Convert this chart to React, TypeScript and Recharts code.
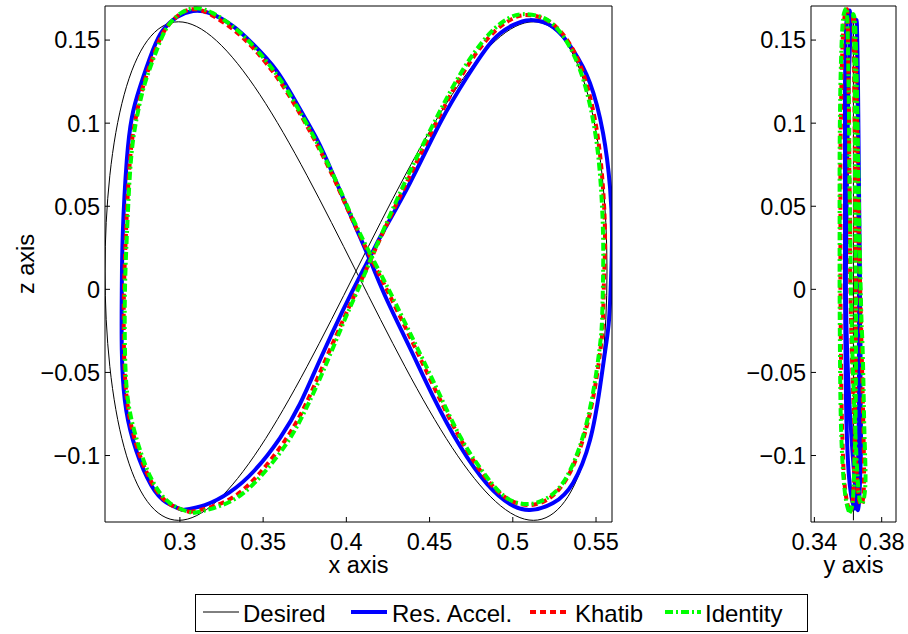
import React from 'react';
import { LineChart, Line, XAxis, YAxis, Label } from 'recharts';

// desired path in the x-z plane (figure eight)
const desiredX = [0.4058, 0.4352, 0.4635, 0.4896, 0.5124, 0.5312, 0.5451, 0.5537, 0.5566, 0.5537, 0.5451, 0.5312, 0.5124, 0.4896, 0.4635, 0.4352, 0.4058, 0.3764, 0.3481, 0.3220, 0.2992, 0.2804, 0.2665, 0.2579, 0.2550, 0.2579, 0.2665, 0.2804, 0.2992, 0.3220, 0.3481, 0.3764, 0.4058];
const desiredZ = [0.011, 0.0684, 0.1171, 0.1496, 0.161, 0.1496, 0.1171, 0.0684, 0.011, -0.0464, -0.0951, -0.1276, -0.139, -0.1276, -0.0951, -0.0464, 0.011, 0.0684, 0.1171, 0.1496, 0.161, 0.1496, 0.1171, 0.0684, 0.011, -0.0464, -0.0951, -0.1276, -0.139, -0.1276, -0.0951, -0.0464, 0.011];
// desired path seen from the side is just a vertical line
const desiredSideY = [0.3632, 0.3632];
const desiredSideZ = [0.161, -0.139];

const resAccelX = [0.3018, 0.3150, 0.3300, 0.3451, 0.3601, 0.3721, 0.3841, 0.3980, 0.4082, 0.4154, 0.4220, 0.4382, 0.4563, 0.4725, 0.4881, 0.5001, 0.5103,
  0.5242, 0.5362, 0.5464, 0.5542, 0.5584, 0.5596, 0.5590, 0.5578, 0.5560, 0.5524, 0.5464, 0.5362, 0.5242, 0.5103,
  0.4983, 0.4845, 0.4683, 0.4520, 0.4382, 0.4244, 0.4142, 0.4022, 0.3919, 0.3829, 0.3721, 0.3583, 0.3439, 0.3319, 0.3180, 0.3078,
  0.2982, 0.2898, 0.2838, 0.2760, 0.2712, 0.2681, 0.2657, 0.2651, 0.2651, 0.2669, 0.2718, 0.2802, 0.2898, 0.3018];
const resAccelY = [0.3642, 0.3647, 0.3653, 0.3659, 0.3662, 0.3665, 0.3665, 0.3665, 0.3665, 0.3665, 0.3662, 0.3662, 0.3659, 0.3656, 0.3653, 0.3653, 0.3650,
  0.3653, 0.3656, 0.3659, 0.3662, 0.3665, 0.3668, 0.3671, 0.3671, 0.3674, 0.3674, 0.3677, 0.3671, 0.3665, 0.3659,
  0.3653, 0.3642, 0.3624, 0.3606, 0.3594, 0.3588, 0.3588, 0.3591, 0.3594, 0.3597, 0.3600, 0.3606, 0.3612, 0.3615, 0.3612, 0.3606,
  0.3594, 0.3588, 0.3585, 0.3582, 0.3582, 0.3582, 0.3582, 0.3582, 0.3585, 0.3588, 0.3594, 0.3606, 0.3624, 0.3642];
const resAccelZ = [-0.1328, -0.1298, -0.1220, -0.1087, -0.0895, -0.0690, -0.0425, -0.0125, 0.0080, 0.0218, 0.0345, 0.0640, 0.1001, 0.1278, 0.1500, 0.1590, 0.1620,
  0.1578, 0.1440, 0.1241, 0.0941, 0.0616, 0.0339, 0.0056, -0.0185, -0.0335, -0.0588, -0.0907, -0.1165, -0.1286, -0.1328,
  -0.1292, -0.1171, -0.0943, -0.0642, -0.0353, -0.0064, 0.0176, 0.0453, 0.0694, 0.0892, 0.1085, 0.1313, 0.1476, 0.1584, 0.1662, 0.1675,
  0.1638, 0.1560, 0.1440, 0.1217, 0.1037, 0.0778, 0.0339, -0.0004, -0.0365, -0.0666, -0.0907, -0.1130, -0.1268, -0.1328];

const khatibX = [0.3060, 0.3186, 0.3331, 0.3475, 0.3625, 0.3745, 0.3859, 0.3986, 0.4082, 0.4148, 0.4208, 0.4364, 0.4545, 0.4701, 0.4863, 0.4983, 0.5067,
  0.5194, 0.5314, 0.5416, 0.5494, 0.5536, 0.5554, 0.5548, 0.5542, 0.5530, 0.5494, 0.5428, 0.5326, 0.5212, 0.5097,
  0.4971, 0.4839, 0.4689, 0.4538, 0.4400, 0.4268, 0.4160, 0.4040, 0.3938, 0.3841, 0.3733, 0.3595, 0.3451, 0.3325, 0.3192, 0.3090,
  0.3000, 0.2922, 0.2862, 0.2784, 0.2736, 0.2700, 0.2676, 0.2664, 0.2664, 0.2682, 0.2730, 0.2814, 0.2922, 0.3060];
const khatibY = [0.3612, 0.3624, 0.3630, 0.3636, 0.3639, 0.3642, 0.3645, 0.3645, 0.3645, 0.3645, 0.3642, 0.3642, 0.3639, 0.3636, 0.3633, 0.3630, 0.3630,
  0.3636, 0.3642, 0.3647, 0.3653, 0.3659, 0.3665, 0.3671, 0.3677, 0.3680, 0.3686, 0.3692, 0.3695, 0.3689, 0.3677,
  0.3665, 0.3653, 0.3642, 0.3630, 0.3621, 0.3615, 0.3612, 0.3612, 0.3609, 0.3607, 0.3606, 0.3603, 0.3600, 0.3600, 0.3597, 0.3594,
  0.3582, 0.3573, 0.3567, 0.3561, 0.3558, 0.3555, 0.3555, 0.3555, 0.3558, 0.3561, 0.3567, 0.3576, 0.3594, 0.3612];
const khatibZ = [-0.1340, -0.1310, -0.1244, -0.1111, -0.0919, -0.0714, -0.0461, -0.0173, 0.0038, 0.0182, 0.0315, 0.0646, 0.1013, 0.1301, 0.1524, 0.1620, 0.1650,
  0.1626, 0.1518, 0.1320, 0.1019, 0.0688, 0.0339, 0.0056, -0.0185, -0.0335, -0.0588, -0.0883, -0.1135, -0.1262, -0.1298,
  -0.1262, -0.1136, -0.0907, -0.0612, -0.0323, -0.0052, 0.0164, 0.0411, 0.0640, 0.0838, 0.1037, 0.1259, 0.1440, 0.1560, 0.1650, 0.1686,
  0.1656, 0.1578, 0.1462, 0.1240, 0.1037, 0.0778, 0.0339, -0.0004, -0.0365, -0.0666, -0.0907, -0.1130, -0.1280, -0.1340];

const identityX = [0.3078, 0.3204, 0.3349, 0.3493, 0.3643, 0.3757, 0.3871, 0.3992, 0.4082, 0.4142, 0.4202, 0.4358, 0.4538, 0.4695, 0.4857, 0.4977, 0.5061,
  0.5188, 0.5302, 0.5404, 0.5482, 0.5524, 0.5542, 0.5542, 0.5536, 0.5524, 0.5488, 0.5422, 0.5320, 0.5206, 0.5091,
  0.4965, 0.4839, 0.4689, 0.4545, 0.4406, 0.4274, 0.4166, 0.4046, 0.3944, 0.3847, 0.3739, 0.3601, 0.3457, 0.3331, 0.3198, 0.3096,
  0.3006, 0.2928, 0.2868, 0.2790, 0.2742, 0.2706, 0.2682, 0.2670, 0.2670, 0.2688, 0.2742, 0.2826, 0.2940, 0.3078];
const identityY = [0.3609, 0.3621, 0.3630, 0.3636, 0.3642, 0.3645, 0.3647, 0.3647, 0.3647, 0.3645, 0.3645, 0.3642, 0.3642, 0.3639, 0.3636, 0.3633, 0.3630,
  0.3639, 0.3645, 0.3650, 0.3656, 0.3662, 0.3668, 0.3674, 0.3680, 0.3686, 0.3692, 0.3698, 0.3704, 0.3695, 0.3683,
  0.3668, 0.3656, 0.3645, 0.3633, 0.3624, 0.3618, 0.3615, 0.3612, 0.3609, 0.3607, 0.3606, 0.3603, 0.3600, 0.3597, 0.3594, 0.3591,
  0.3576, 0.3567, 0.3561, 0.3555, 0.3552, 0.3550, 0.3550, 0.3550, 0.3552, 0.3555, 0.3561, 0.3573, 0.3591, 0.3609];
const identityZ = [-0.1346, -0.1316, -0.1250, -0.1117, -0.0925, -0.0720, -0.0468, -0.0179, 0.0026, 0.0170, 0.0309, 0.0658, 0.1025, 0.1313, 0.1536, 0.1632, 0.1656,
  0.1632, 0.1524, 0.1320, 0.1019, 0.0688, 0.0339, 0.0056, -0.0185, -0.0335, -0.0588, -0.0883, -0.1135, -0.1256, -0.1292,
  -0.1256, -0.1123, -0.0895, -0.0600, -0.0311, -0.0040, 0.0170, 0.0411, 0.0640, 0.0838, 0.1037, 0.1265, 0.1446, 0.1572, 0.1662, 0.1692,
  0.1662, 0.1584, 0.1458, 0.1240, 0.1037, 0.0778, 0.0339, -0.0004, -0.0365, -0.0666, -0.0907, -0.1135, -0.1286, -0.1346];

const xTicks = [0.3, 0.35, 0.4, 0.45, 0.5, 0.55];
const yTicks = [0.34, 0.38];
const zTicks = [-0.1, -0.05, 0, 0.05, 0.1, 0.15];

const FONT = '"Liberation Sans", Arial, Helvetica, sans-serif';

const pts = (a: number[], b: number[], ka: string) => a.map((v, i) => ({ [ka]: v, z: b[i] }));

const series = [
  { name: 'Desired', color: '#000000', width: 1, dash: undefined as string | undefined,
    front: pts(desiredX, desiredZ, 'x'), side: pts(desiredSideY, desiredSideZ, 'y') },
  { name: 'Res. Accel.', color: '#0000ff', width: 4, dash: undefined,
    front: pts(resAccelX, resAccelZ, 'x'), side: pts(resAccelY, resAccelZ, 'y') },
  { name: 'Khatib', color: '#ff0000', width: 4, dash: '6 4',
    front: pts(khatibX, khatibZ, 'x'), side: pts(khatibY, khatibZ, 'y') },
  { name: 'Identity', color: '#00ff00', width: 4, dash: '8 3 2 3',
    front: pts(identityX, identityZ, 'x'), side: pts(identityY, identityZ, 'y') },
];

const fmt = (v: number) => (v < 0 ? '\u2212' + String(Math.abs(v)) : String(v));

const axisLine = { stroke: '#000', strokeWidth: 1 };
const tickText = { fill: '#000', fontSize: 23.5, fontFamily: FONT };
const zDomain = [-0.14, 0.1705];

const Panel = ({ width, left, yAxisW, rightM, key2, domain, ticks, title, withZLabel }: any) => (
  <div style={{ position: 'absolute', left, top: 0 }}>
    <LineChart width={width} height={582} margin={{ top: 5, right: rightM, bottom: 0, left: 0 }}>
      <XAxis dataKey={key2} type="number" domain={domain} allowDataOverflow ticks={ticks} interval={0}
        tickFormatter={fmt} tick={tickText} tickSize={-5} tickMargin={16} height={60}
        axisLine={axisLine} tickLine={axisLine}>
        <Label value={title} position="insideBottom" offset={9} fill="#000" fontSize={23.5} fontFamily={FONT} />
      </XAxis>
      {/* top and right axes only close the box and carry the inward ticks */}
      <XAxis xAxisId="top" orientation="top" dataKey={key2} type="number" domain={domain} allowDataOverflow
        ticks={ticks} interval={0} tick={false} tickSize={-5} height={1} axisLine={axisLine} tickLine={axisLine} />
      <YAxis dataKey="z" type="number" domain={zDomain} allowDataOverflow ticks={zTicks} interval={0}
        tickFormatter={fmt} tick={tickText} tickSize={-5} tickMargin={10} width={yAxisW}
        axisLine={axisLine} tickLine={axisLine}>
        {withZLabel && (
          <Label value="z axis" angle={-90} position="center" dx={-27} fill="#000" fontSize={23.5} fontFamily={FONT} />
        )}
      </YAxis>
      <YAxis yAxisId="right" orientation="right" dataKey="z" type="number" domain={zDomain} allowDataOverflow
        ticks={zTicks} interval={0} tick={false} tickSize={-5} width={1} axisLine={axisLine} tickLine={axisLine} />
      {series.map((s) => (
        <Line key={s.name} data={key2 === 'x' ? s.front : s.side} dataKey="z" type="natural"
          stroke={s.color} strokeWidth={s.width} strokeDasharray={s.dash}
          dot={false} activeDot={false} isAnimationActive={false} />
      ))}
      {/* invisible copy so the box axes have a series */}
      <Line xAxisId="top" yAxisId="right" data={series[0].front.length && key2 === 'x' ? series[0].front : series[0].side}
        dataKey="z" stroke="none" dot={false} activeDot={false} isAnimationActive={false} legendType="none" />
    </LineChart>
  </div>
);

const LegendBox = () => {
  const spots = [
    { line: 9, text: 49 },
    { line: 157, text: 198 },
    { line: 336, text: 381 },
    { line: 471, text: 511 },
  ];
  return (
    <svg width={616} height={42} style={{ position: 'absolute', left: 194, top: 593 }}>
      <rect x={1.5} y={1.5} width={612} height={37} fill="#fff" stroke="#000" strokeWidth={1} />
      {series.map((s, i) => (
        <g key={s.name}>
          <line x1={spots[i].line} x2={spots[i].line + 36} y1={19} y2={19}
            stroke={s.color} strokeWidth={s.width} strokeDasharray={s.dash} />
          <text x={spots[i].text} y={28.5} fontSize={24} fontFamily={FONT} fill="#000">{s.name}</text>
        </g>
      ))}
    </svg>
  );
};

export default function App() {
  return (
    <div style={{ position: 'absolute', left: 0, top: 0, width: 908, height: 634, background: '#fff', fontFamily: FONT }}>
      <Panel width={640} left={0} yAxisW={105} rightM={27} key2="x" domain={[0.255, 0.5596]}
        ticks={xTicks} title="x axis" withZLabel />
      <Panel width={208} left={700} yAxisW={111} rightM={11} key2="y" domain={[0.338, 0.3885]}
        ticks={yTicks} title="y axis" withZLabel={false} />
      <LegendBox />
    </div>
  );
}
